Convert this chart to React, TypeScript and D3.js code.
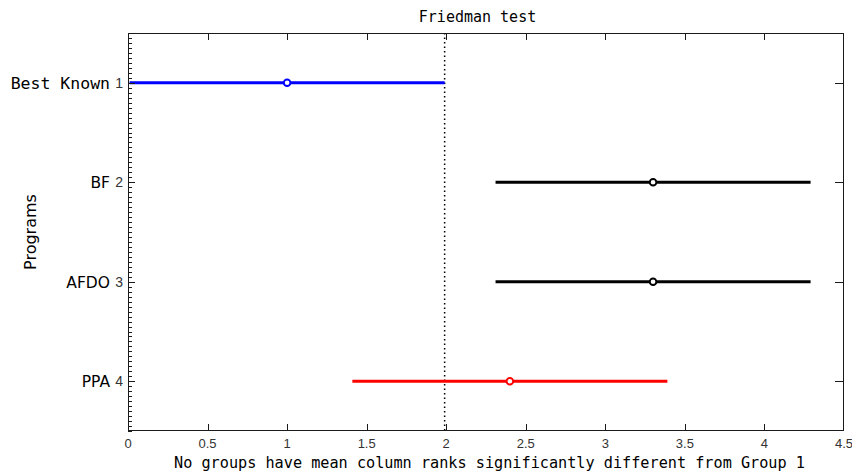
import React from "react";
import * as d3 from "d3";

const groups = ["Best Known", "BF", "AFDO", "PPA"];
const groupIdx = [1, 2, 3, 4];
const centers = [1.0, 3.3, 3.3, 2.4];
const halfWidth = [0.99, 0.99, 0.99, 0.99];
const colors = ["#0000ff", "#000000", "#000000", "#ff0000"];
const xTicks = [0, 0.5, 1, 1.5, 2, 2.5, 3, 3.5, 4, 4.5];
const xTickLabels = ["0", "0.5", "1", "1.5", "2", "2.5", "3", "3.5", "4", "4.5"];
const titleText = "Friedman test";
const xLabelText = "No groups have mean column ranks significantly different from Group 1";
const yLabelText = "Programs";

const W = 852, H = 475;
const L = 128, R = 844, T = 33, B = 431;

export default function App() {
  const x = d3.scaleLinear().domain([0, 4.5]).range([L, R]);
  const y = d3.scaleLinear().domain([0.5, 4.5]).range([T, B]);
  const minor = d3.range(0.5, 4.5001, 0.05).map((v) => Math.round(v * 100) / 100).filter((v) => !groupIdx.includes(v));
  const refX = x(centers[0] + halfWidth[0]);
  const mono = "'DejaVu Sans Mono', monospace";
  const sans = "'DejaVu Sans', sans-serif";
  const axisCol = "#1a1a1a";
  return (
    <svg width={W} height={H} style={{ position: "fixed", left: 0, top: 0, background: "#fff" }}>
      <rect x={0} y={0} width={W} height={H} fill="#fff" />
      {/* dotted reference line */}
      <line x1={refX} x2={refX} y1={T} y2={B} stroke="#000" strokeWidth={1.5} strokeDasharray="1.5,3" />
      {/* interval lines */}
      {groups.map((g, i) => (
        <g key={g}>
          <line x1={x(centers[i] - halfWidth[i])} x2={x(centers[i] + halfWidth[i])} y1={y(groupIdx[i])} y2={y(groupIdx[i])} stroke={colors[i]} strokeWidth={3} />
          <circle cx={x(centers[i])} cy={y(groupIdx[i])} r={3.3} fill="#fff" stroke={colors[i]} strokeWidth={1.9} />
        </g>
      ))}
      {/* box */}
      <rect x={L + 0.5} y={T + 0.5} width={R - L - 1} height={B - T - 1} fill="none" stroke={axisCol} strokeWidth={1} />
      {/* x ticks */}
      {xTicks.slice(1, -1).map((v) => (
        <g key={"xt" + v}>
          <line x1={Math.round(x(v)) + 0.5} x2={Math.round(x(v)) + 0.5} y1={B} y2={B - 7} stroke={axisCol} />
          <line x1={Math.round(x(v)) + 0.5} x2={Math.round(x(v)) + 0.5} y1={T} y2={T + 7} stroke={axisCol} />
        </g>
      ))}
      {xTicks.map((v, i) => (
        <text key={"xl" + v} x={x(v)} y={448} textAnchor="middle" fontFamily="'Liberation Sans', sans-serif" fontSize={13} fill="#333">
          {xTickLabels[i]}
        </text>
      ))}
      {/* y minor ticks */}
      {minor.map((v) => (
        <line key={"ym" + v} x1={L} x2={L + 4} y1={Math.round(y(v)) + 0.5} y2={Math.round(y(v)) + 0.5} stroke={axisCol} />
      ))}
      {groupIdx.map((v, i) => (
        <g key={"yt" + v}>
          <line x1={L} x2={L + 7} y1={Math.round(y(v)) + 0.5} y2={Math.round(y(v)) + 0.5} stroke={axisCol} />
          <line x1={R} x2={R - 9} y1={Math.round(y(v)) + 0.5} y2={Math.round(y(v)) + 0.5} stroke={axisCol} />
          <text x={123} y={y(v) + 5} textAnchor="end" fontFamily="'Liberation Sans', sans-serif" fontSize={14} fill="#333">
            {v}
          </text>
          <text x={110} y={y(v) + 6} textAnchor="end" fontFamily={i === 0 ? mono : sans} fontSize={i === 0 ? 16.5 : 15.5} fill="#000">
            {groups[i]}
          </text>
        </g>
      ))}
      <text x={477.5} y={22} textAnchor="middle" fontFamily={mono} fontSize={15} fill="#000">
        {titleText}
      </text>
      <text x={489.5} y={468} textAnchor="middle" fontFamily={mono} fontSize={15.2} fill="#000">
        {xLabelText}
      </text>
      <text transform={`translate(36,${(T + B) / 2}) rotate(-90)`} textAnchor="middle" fontFamily={sans} fontSize={16} fill="#000">
        {yLabelText}
      </text>
    </svg>
  );
}
